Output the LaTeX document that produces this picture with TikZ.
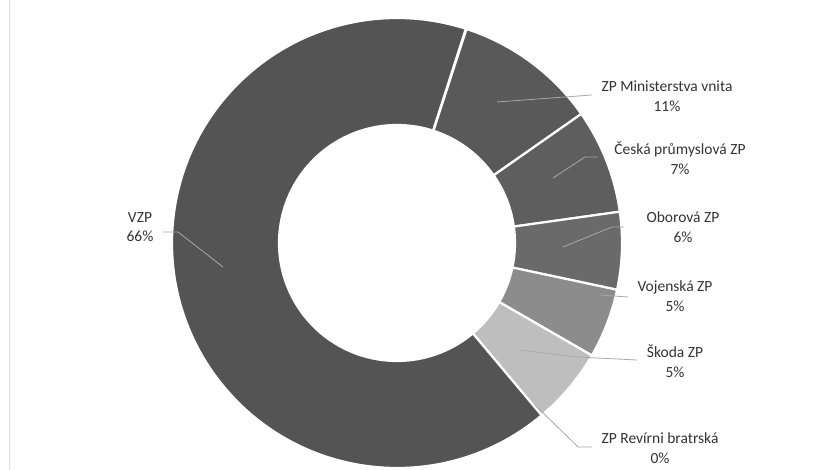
\documentclass[tikz,border=0pt]{standalone}
\usepackage{fontspec}
\setmainfont{Carlito}
\usepackage{xcolor}

\definecolor{cVZP}{HTML}{545454}
\definecolor{cMV}{HTML}{595959}
\definecolor{cCPZP}{HTML}{5E5E5E}
\definecolor{cOZP}{HTML}{6A6A6A}
\definecolor{cVoZP}{HTML}{8C8C8C}
\definecolor{cSkoda}{HTML}{BEBEBE}
\definecolor{cLead}{HTML}{A8A8A8}
\definecolor{cText}{HTML}{333333}

\tikzset{
    slice/.style={draw=white, line width=2.2pt, line join=miter},
    lbl/.style={align=center, text=cText, inner sep=1pt, font=\fontsize{15.5}{19.5}\selectfont},
    lead/.style={draw=cLead, line width=0.8pt}
}

\newcommand{\donutslice}[3]{%
    \filldraw[slice, fill=#3] ([shift={(#1:225)}]ctr) arc[start angle=#1, end angle=#2, radius=225]
        -- ([shift={(#2:118)}]ctr) arc[start angle=#2, end angle=#1, radius=118] -- cycle;}

\begin{document}
\begin{tikzpicture}[x=1pt,y=1pt]
    \useasboundingbox (0,0) rectangle (839,470);
    \draw[gray!25, line width=1pt] (9,0) -- (9,470);

    \coordinate (ctr) at (397,227);

    % slices, clockwise from the top
    \donutslice{72}{35}{cMV}
    \donutslice{35}{8}{cCPZP}
    \donutslice{8}{-12}{cOZP}
    \donutslice{-12}{-30}{cVoZP}
    \donutslice{-30}{-50}{cSkoda}
    \donutslice{-50}{-287.8}{cVZP}

    % labels
    \node[lbl] (mv) at (667,374) {ZP Ministerstva vnita\\11\%};
    \node[lbl] (cpzp) at (680,312) {Česká průmyslová ZP\\7\%};
    \node[lbl] (ozp) at (683,243) {Oborová ZP\\6\%};
    \node[lbl] (vozp) at (675,174) {Vojenská ZP\\5\%};
    \node[lbl] (skoda) at (675,109) {Škoda ZP\\5\%};
    \node[lbl] (rbp) at (660,22) {ZP Revírni bratrská\\0\%};
    \node[lbl] (vzp) at (140,243) {VZP\\66\%};

    % leader lines
    \coordinate (mv1) at (497,368);
    \coordinate (mv2) at (592,375);
    \coordinate (cp1) at (553,292);
    \coordinate (cp2) at (585,313);
    \coordinate (cp3) at (598,313);
    \coordinate (oz1) at (563,223);
    \coordinate (oz2) at (612,243);
    \coordinate (oz3) at (624,243);
    \coordinate (vo1) at (600,175);
    \coordinate (vo2) at (628,173);
    \coordinate (sk1) at (520,120);
    \coordinate (sk2) at (577,113);
    \coordinate (sk3) at (637,110);
    \coordinate (rb1) at (535,65);
    \coordinate (rb2) at (578,23);
    \coordinate (rb3) at (592,23);
    \coordinate (vz1) at (223,203);
    \coordinate (vz2) at (178,238);
    \coordinate (vz3) at (163,238);

    \draw[lead] (mv1) -- (mv2);
    \draw[lead] (cp1) -- (cp2) -- (cp3);
    \draw[lead] (oz1) -- (oz2) -- (oz3);
    \draw[lead] (vo1) -- (vo2);
    \draw[lead] (sk1) -- (sk2) -- (sk3);
    \draw[lead] (rb1) -- (rb2) -- (rb3);
    \draw[lead] (vz1) -- (vz2) -- (vz3);
\end{tikzpicture}
\end{document}
